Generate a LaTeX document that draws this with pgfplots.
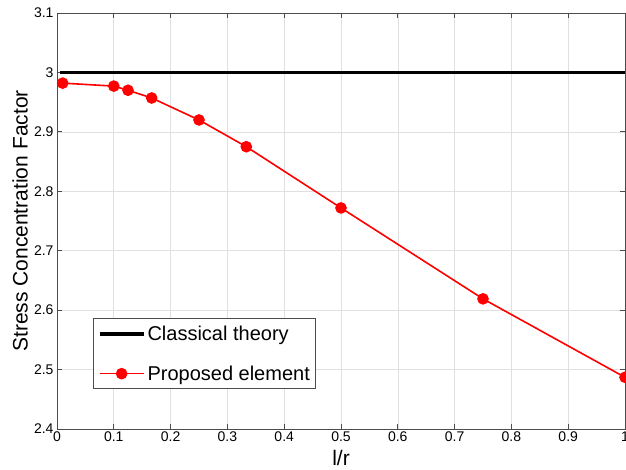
\documentclass[border=0pt]{standalone}
\usepackage{pgfplots}
\pgfplotsset{compat=1.18}
\usetikzlibrary{calc}
\usepackage{fontspec}
\setmainfont{Liberation Sans}
\definecolor{gridgray}{rgb}{0.88,0.88,0.88}
\definecolor{boxgray}{rgb}{0.3,0.3,0.3}
\begin{document}
\begin{tikzpicture}
\begin{axis}[
    name=ax,
    scale only axis,
    width=568pt,
    height=416pt,
    xmin=0, xmax=1,
    ymin=2.4, ymax=3.1,
    xtick={0,0.1,...,1},
    ytick={2.4,2.5,...,3.1},
    xticklabels={0,0.1,0.2,0.3,0.4,0.5,0.6,0.7,0.8,0.9,1},
    yticklabels={2.4,2.5,2.6,2.7,2.8,2.9,3,3.1},
    /pgf/number format/assume math mode=true,
    tick label style={font=\fontsize{14}{16}\selectfont},
    xticklabel style={yshift=1pt},
    label style={font=\fontsize{21}{25}\selectfont},
    xlabel={l/r},
    ylabel={Stress Concentration Factor},
    xlabel style={at={(axis description cs:0.5,0)}, anchor=center, yshift=-29pt},
    ylabel style={at={(axis description cs:0,0.5)}, anchor=center, yshift=37pt},
    grid=major,
    major grid style={gridgray, line width=0.6pt},
    axis line style={boxgray, line width=0.8pt},
    tick style={boxgray, line width=0.8pt},
    tick align=inside,
    major tick length=5pt,
    legend style={
        at={(0.064,0.096)}, anchor=south west,
        draw=boxgray, line width=0.8pt,
        font=\fontsize{20}{24}\selectfont,
        row sep=20pt, inner xsep=4pt, inner ysep=5pt,
        cells={anchor=west},
    },
    legend image code/.code={
        \draw[mark repeat=2, mark phase=2, #1]
            plot coordinates {(0pt,0pt) (22pt,0pt) (44pt,0pt)};
    },
]
\addplot[black, line width=3.8pt, mark=none] coordinates {(0.005,3) (1,3)};
\addlegendentry{Classical theory}
\addplot[red, line width=1.6pt, mark=*, mark size=5pt,
    mark options={fill=red, draw=red}] coordinates {
    (0.01,2.982)
    (0.1,2.977)
    (0.125,2.970)
    (0.1667,2.957)
    (0.25,2.920)
    (0.3333,2.875)
    (0.5,2.772)
    (0.75,2.619)
    (1,2.487)
};
\addlegendentry{Proposed element}
\end{axis}
\pgfresetboundingbox
\path ($(ax.south west)+(-57pt,-40pt)$) rectangle ($(ax.north east)+(1pt,13pt)$);
\end{tikzpicture}
\end{document}
